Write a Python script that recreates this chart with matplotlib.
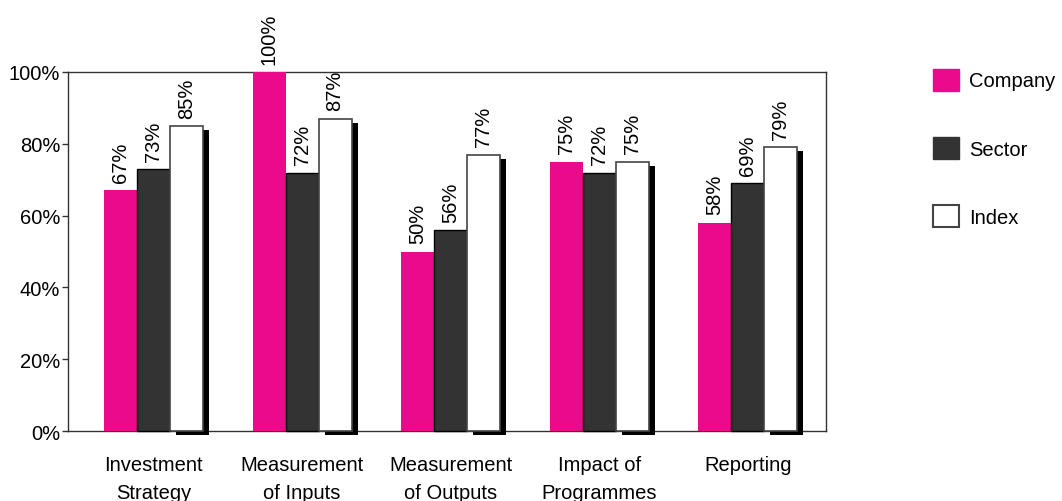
import numpy as np
import matplotlib
matplotlib.use("Agg")
import matplotlib.pyplot as plt
import matplotlib.patheffects as pe
from matplotlib.patches import Patch

plt.rcParams["font.family"] = ["Liberation Sans", "DejaVu Sans"]

categories = ["Investment\nStrategy", "Measurement\nof Inputs", "Measurement\nof Outputs",
              "Impact of\nProgrammes", "Reporting"]
company = [67, 100, 50, 75, 58]
sector = [73, 72, 56, 72, 69]
index = [85, 87, 77, 75, 79]

pink = "#EC0A8C"
dark = "#333333"
fs = 14.5

fig = plt.figure(figsize=(10.62, 5.02), dpi=100)
ax = fig.add_axes([0.064, 0.1394, 0.7138, 0.7152])

x = np.arange(len(categories))
w = 0.222

b1 = ax.bar(x - w, company, w, color=pink, linewidth=0, clip_on=False, zorder=3)
b2 = ax.bar(x, sector, w, color=dark, edgecolor="black", linewidth=1, clip_on=False, zorder=3)
b3 = ax.bar(x + w, index, w, color="white", edgecolor="#444444", linewidth=1.2,
            clip_on=False, zorder=3)
# drop shadow on the index bars
for r in b3:
    r.set_path_effects([pe.SimplePatchShadow(offset=(4.3, -2.9), shadow_rgbFace="black",
                                             alpha=1.0), pe.Normal()])

for bars, vals in [(b1, company), (b2, sector), (b3, index)]:
    for r, v in zip(bars, vals):
        ax.annotate(f"{v}%", (r.get_x() + r.get_width() / 2, v), xytext=(0, 6),
                    textcoords="offset points", rotation=90, ha="center", va="bottom",
                    fontsize=fs, zorder=4)

ax.set_ylim(0, 100)
ax.set_xlim(-0.575, 4.525)
ax.set_yticks(range(0, 101, 20))
ax.set_yticklabels([f"{t}%" for t in range(0, 101, 20)], fontsize=fs)
ax.set_xticks(x)
ax.set_xticklabels(categories, fontsize=fs, linespacing=1.6)
ax.tick_params(axis="x", length=0, pad=17)
ax.tick_params(axis="y", length=4.5, width=1, color="#333333", pad=1)
for s in ax.spines.values():
    s.set_color("#333333")
    s.set_linewidth(1)

handles = [Patch(facecolor=pink, edgecolor=pink), Patch(facecolor=dark, edgecolor=dark),
           Patch(facecolor="white", edgecolor="#444444", linewidth=1.5)]
ax.legend(handles, ["Company", "Sector", "Index"], loc="upper left",
          bbox_to_anchor=(1.117, 1.06), frameon=False, fontsize=fs,
          handlelength=1.3, handleheight=1.3, labelspacing=2.3, handletextpad=0.5)

fig.savefig("out.png", dpi=100)
